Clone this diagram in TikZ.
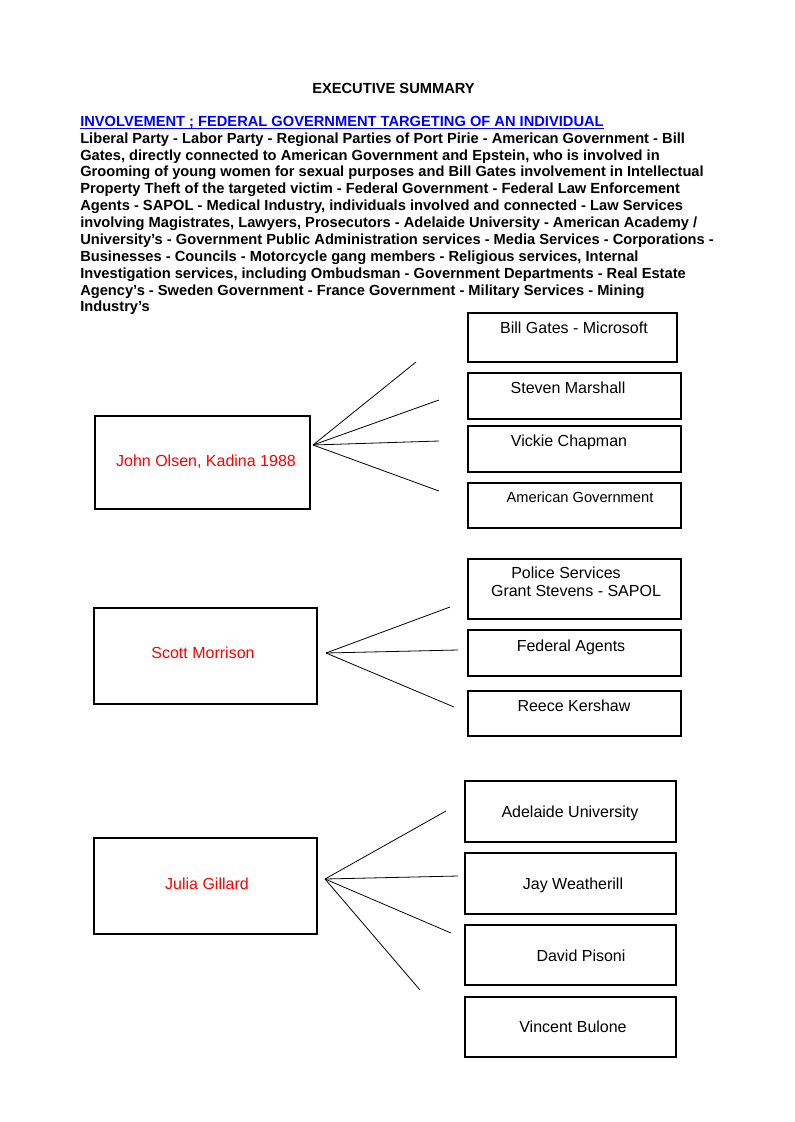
\documentclass[tikz,border=0pt]{standalone}
\usepackage{fontspec}
\setmainfont{Liberation Sans}
\usetikzlibrary{calc}
\definecolor{linkblue}{RGB}{0,0,255}
\definecolor{namered}{RGB}{255,0,0}
\begin{document}
\begin{tikzpicture}[x=0.75pt,y=-0.75pt,
  box/.style={draw=black, line width=0.9pt, inner sep=0pt},
  sz/.style 2 args={minimum width=#1*0.75pt, minimum height=#2*0.75pt},
  conn/.style={draw=black, line width=0.6pt},
  boxtext/.style={anchor=base, inner sep=0pt, font=\fontsize{12}{14}\selectfont},
  smalltext/.style={anchor=base, inner sep=0pt, font=\fontsize{11}{13}\selectfont},
  redtext/.style={boxtext, text=namered},
  bodytext/.style={inner sep=0pt, font=\bfseries\fontsize{11}{12.65}\selectfont}
]
\useasboundingbox (0,0) rectangle (794,1122);

% header
\node[bodytext, anchor=base] (title) at (393.5,93) {EXECUTIVE SUMMARY};
\node[bodytext, anchor=base west, text=linkblue] (hd) at (80,126) {INVOLVEMENT ; FEDERAL GOVERNMENT TARGETING OF AN INDIVIDUAL};
\draw[linkblue, line width=0.75pt] ($(hd.base west)+(0,2)$) -- ($(hd.base east)+(0,2)$);
\node[bodytext, anchor=north west, align=left] (body) at (80,132.3) {Liberal Party - Labor Party - Regional Parties of Port Pirie - American Government - Bill\\
Gates, directly connected to American Government and Epstein, who is involved in\\
Grooming of young women for sexual purposes and Bill Gates involvement in Intellectual\\
Property Theft of the targeted victim - Federal Government - Federal Law Enforcement\\
Agents - SAPOL - Medical Industry, individuals involved and connected - Law Services\\
involving Magistrates, Lawyers, Prosecutors - Adelaide University - American Academy /\\
University’s - Government Public Administration services - Media Services - Corporations -\\
Businesses - Councils - Motorcycle gang members - Religious services, Internal\\
Investigation services, including Ombudsman - Government Departments - Real Estate\\
Agency’s - Sweden Government - France Government - Military Services - Mining\\
Industry’s};

% group 1
\node[box, sz={215}{93}] (john) at (202.5,462.5) {};
\node[redtext] (johnt) at (206,466.5) {John Olsen, Kadina 1988};
\node[box, sz={209}{49}] (bill) at (572.5,337.5) {};
\node[boxtext] (billt) at (574,333) {Bill Gates - Microsoft};
\node[box, sz={213}{46}] (steven) at (574.5,396) {};
\node[boxtext] (stevent) at (568,393.5) {Steven Marshall};
\node[box, sz={213}{46}] (vickie) at (574.5,449) {};
\node[boxtext] (vickiet) at (569,446) {Vickie Chapman};
\node[box, sz={213}{45}] (amgov) at (574.5,505.5) {};
\node[smalltext] (amgovt) at (580,502) {American Government};
\coordinate (hubA) at (313,445);
\coordinate (eA1) at (416,362);
\coordinate (eA2) at (439,400);
\coordinate (eA3) at (439,441);
\coordinate (eA4) at (439,491);
\foreach \e in {eA1,eA2,eA3,eA4} \draw[conn] (hubA) -- (\e);

% group 2
\node[box, sz={223}{96}] (scott) at (205.5,656) {};
\node[redtext] (scottt) at (203,658.5) {Scott Morrison};
\node[box, sz={213}{60}] (police) at (574.5,589) {};
\node[boxtext] (policet1) at (566,578.5) {Police Services};
\node[boxtext] (policet2) at (576,596.5) {Grant Stevens - SAPOL};
\node[box, sz={213}{46}] (fed) at (574.5,653) {};
\node[boxtext] (fedt) at (571,651.5) {Federal Agents};
\node[box, sz={213}{45}] (reece) at (574.5,713.5) {};
\node[boxtext] (reecet) at (574,711.5) {Reece Kershaw};
\coordinate (hubB) at (326,653);
\coordinate (eB1) at (450,607);
\coordinate (eB2) at (458,650);
\coordinate (eB3) at (454,707);
\foreach \e in {eB1,eB2,eB3} \draw[conn] (hubB) -- (\e);

% group 3
\node[box, sz={223}{96}] (julia) at (205.5,886) {};
\node[redtext] (juliat) at (207,889) {Julia Gillard};
\node[box, sz={211}{61}] (adel) at (570.5,811.5) {};
\node[boxtext] (adelt) at (570,817) {Adelaide University};
\node[box, sz={211}{61}] (jay) at (570.5,883.5) {};
\node[boxtext] (jayt) at (573,889) {Jay Weatherill};
\node[box, sz={211}{60}] (david) at (570.5,955) {};
\node[boxtext] (davidt) at (581,961) {David Pisoni};
\node[box, sz={211}{60}] (vincent) at (570.5,1027) {};
\node[boxtext] (vincentt) at (573,1032) {Vincent Bulone};
\coordinate (hubC) at (325,879);
\coordinate (eC1) at (446,811);
\coordinate (eC2) at (458,876);
\coordinate (eC3) at (451,933);
\coordinate (eC4) at (420,990);
\foreach \e in {eC1,eC2,eC3,eC4} \draw[conn] (hubC) -- (\e);
\end{tikzpicture}
\end{document}
